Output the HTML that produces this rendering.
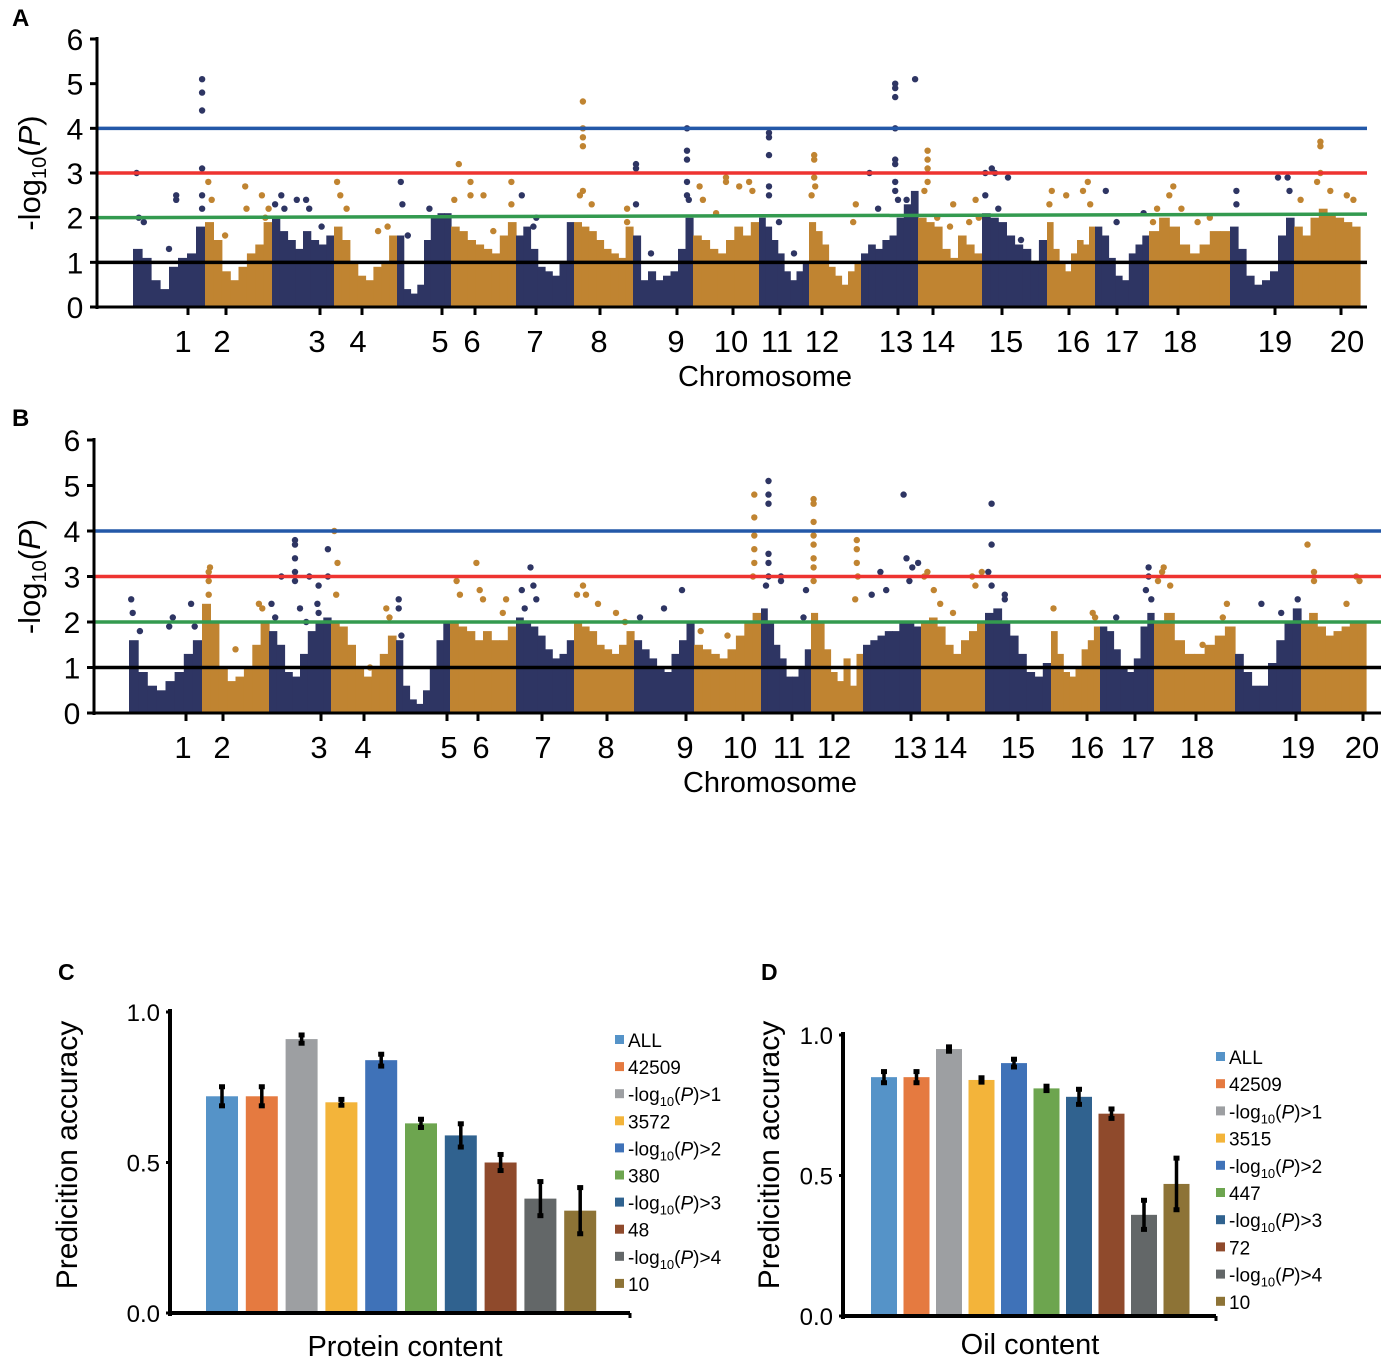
<!DOCTYPE html>
<html><head><meta charset="utf-8"><style>
body{margin:0;background:#fff}
svg{display:block;font-family:"Liberation Sans",Arial,sans-serif}
</style></head><body>
<svg id="fig" width="1387" height="1358" viewBox="0 0 1387 1358" xmlns="http://www.w3.org/2000/svg">
<g id="pa"></g>
<g id="pb"></g>
<g id="pc"></g>
<g id="pd"></g>
</svg>
<script>
// ---------- Manhattan data ----------
const chromLabels = ["1","2","3","4","5","6","7","8","9","10","11","12","13","14","15","16","17","18","19","20"];
const yTicksM = [0,1,2,3,4,5,6];
const segA = [[133,205],[205,272],[272,334],[334,397],[397,451],[451,516],[516,574],[574,633],[633,693],[693,759],[759,809],[809,861],[861,918],[918,982],[982,1047],[1047,1095],[1095,1149],[1149,1230],[1230,1294],[1294,1360]];
const segB = [[129,202],[202,269],[269,331],[331,396],[396,450],[450,516],[516,574],[574,634],[634,694],[694,761],[761,811],[811,863],[863,921],[921,985],[985,1051],[1051,1100],[1100,1154],[1154,1235],[1235,1301],[1301,1366]];
const tickA = [188,226,320,362,442,475,536,600,677,733,780,822,898,933,1002,1069,1117,1178,1275,1341];
const tickB = [186,223,321,364,447,478,542,607,686,743,792,833,911,948,1018,1087,1135,1196,1296,1363];
const labelXA = [183,222,317,358,440,472,535,599,676,731,777,822,896,938,1006,1073,1122,1180,1275,1347];
const labelXB = [183,222,319,363,449,481,543,606,685,740,789,834,910,950,1018,1087,1138,1197,1298,1362];
const bodyA = [
[1.3,1.1,0.6,0.4,0.9,1.1,1.2,1.8],[1.9,1.5,0.8,0.6,0.9,1.2,1.4,1.9],[2.0,1.7,1.5,1.3,1.7,1.5,1.4,1.6],[1.8,1.5,1.0,0.7,0.6,0.9,1.0,1.6],
[1.6,0.4,0.3,0.5,1.5,2.0,2.1,2.1],[1.8,1.7,1.5,1.4,1.3,1.2,1.6,1.9],[1.6,1.8,1.3,0.9,0.8,0.7,1.0,1.9],[1.9,1.8,1.7,1.5,1.3,1.2,1.1,1.8],
[1.6,0.6,0.8,0.6,0.7,0.8,1.3,2.0],[1.6,1.5,1.3,1.2,1.5,1.8,1.6,1.9],[2.0,1.8,1.5,1.2,0.8,0.6,0.8,1.0],[1.9,1.7,1.4,0.9,0.7,0.5,0.8,1.0],
[1.2,1.4,1.3,1.5,1.6,2.0,2.3,2.6],[2.0,1.9,1.8,1.3,1.1,1.6,1.4,1.2],[2.1,2.0,1.9,1.6,1.4,1.3,1.0,1.5],[1.9,1.3,1.0,0.8,1.2,1.5,1.4,1.8],
[1.8,1.6,1.1,0.7,0.6,1.2,1.4,1.6],[1.7,2.0,1.8,1.4,1.2,1.4,1.7,1.7],[1.8,1.3,0.7,0.5,0.6,0.8,1.6,2.0],[1.8,1.6,2.0,2.2,2.1,2.0,1.9,1.8]];
const ptsA = [
[[0.96,5.1],[0.96,4.8],[0.96,4.4],[0.96,3.1],[0.96,2.5],[0.96,2.2],[0.05,3.0],[0.08,2.0],[0.15,1.9],[0.6,2.5],[0.6,2.4],[0.5,1.3]],
[[0.05,2.8],[0.1,2.4],[0.3,1.6],[0.6,2.7],[0.62,2.2],[0.85,2.5],[0.95,2.2],[0.9,2.0]],
[[0.05,2.3],[0.15,2.5],[0.4,2.4],[0.55,2.4],[0.6,2.2],[0.2,2.2],[0.8,1.8]],
[[0.05,2.8],[0.1,2.5],[0.2,2.2],[0.85,1.8],[0.7,1.7]],
[[0.07,2.8],[0.1,2.3],[0.2,1.6],[0.6,2.2]],
[[0.05,2.4],[0.12,3.2],[0.3,2.8],[0.3,2.5],[0.5,2.5],[0.65,1.7],[0.93,2.8],[0.93,2.3]],
[[0.1,2.5],[0.3,1.8],[0.35,2.0]],
[[0.15,2.6],[0.15,3.6],[0.15,3.8],[0.15,4.0],[0.15,4.6],[0.1,2.5],[0.3,2.3],[0.5,1.2],[0.9,2.2],[0.9,1.9]],
[[0.05,3.2],[0.05,3.1],[0.05,2.3],[0.3,1.2],[0.9,4.0],[0.9,3.5],[0.9,3.3],[0.9,2.8],[0.9,2.5],[0.93,2.4]],
[[0.1,2.7],[0.15,2.4],[0.35,2.1],[0.5,2.9],[0.5,2.8],[0.7,2.7],[0.85,2.8],[0.9,2.6]],
[[0.2,3.9],[0.2,3.8],[0.2,3.4],[0.2,2.7],[0.2,2.5],[0.4,1.9],[0.7,1.2]],
[[0.1,3.4],[0.1,3.3],[0.1,2.9],[0.12,2.7],[0.05,2.5],[0.85,1.9],[0.9,2.3]],
[[0.15,3.0],[0.6,5.0],[0.6,4.9],[0.6,4.7],[0.6,4.0],[0.6,3.3],[0.6,3.2],[0.6,2.8],[0.6,2.6],[0.65,2.4],[0.8,2.4],[0.95,5.1],[0.3,2.2]],
[[0.15,3.5],[0.15,3.3],[0.15,3.1],[0.15,2.8],[0.1,2.6],[0.3,2.0],[0.5,1.8],[0.55,2.3],[0.8,1.9],[0.9,2.4],[0.95,2.0]],
[[0.05,3.0],[0.15,3.1],[0.2,3.0],[0.4,2.9],[0.05,2.5],[0.25,2.2],[0.6,1.5]],
[[0.05,2.3],[0.1,2.6],[0.4,2.5],[0.75,2.6],[0.85,2.8],[0.9,2.3]],
[[0.2,2.6],[0.4,1.9],[0.9,2.1]],
[[0.05,1.9],[0.1,2.2],[0.25,2.5],[0.3,2.7],[0.4,2.2],[0.6,1.9],[0.75,2.0]],
[[0.1,2.6],[0.1,2.3],[0.75,2.9],[0.9,2.9],[0.93,2.6]],
[[0.4,3.7],[0.4,3.6],[0.4,3.0],[0.35,2.8],[0.1,2.4],[0.55,2.6],[0.8,2.5],[0.9,2.4]]];
const bodyB = [
[1.6,0.9,0.6,0.5,0.7,0.9,1.3,1.6],[2.4,2.0,1.0,0.7,0.8,1.0,1.5,2.0],[1.8,1.5,0.9,0.8,1.3,1.8,2.0,2.1],[2.0,1.9,1.5,1.0,0.8,1.0,1.3,1.7],
[1.6,0.6,0.3,0.2,0.5,1.0,1.6,2.0],[2.0,1.9,1.8,1.6,1.8,1.6,1.6,1.9],[2.1,2.0,1.9,1.7,1.4,1.2,1.3,1.6],[2.0,1.9,1.8,1.5,1.4,1.3,1.5,1.8],
[1.6,1.4,1.2,1.0,0.9,1.3,1.6,2.0],[1.5,1.4,1.3,1.2,1.4,1.7,2.0,2.2],[2.3,2.0,1.5,1.2,0.8,0.8,1.0,1.4],[2.2,2.0,1.4,0.9,0.7,1.2,0.6,1.3],
[1.5,1.6,1.7,1.8,1.8,2.0,2.0,1.9],[2.0,2.1,1.9,1.5,1.3,1.6,1.8,2.0],[2.2,2.3,2.0,1.7,1.3,0.9,0.8,1.1],[1.8,1.3,0.9,0.8,1.0,1.4,1.6,1.9],
[1.9,1.8,1.4,1.0,0.9,1.2,1.9,2.2],[2.0,2.2,1.6,1.3,1.3,1.5,1.7,1.9],[1.3,0.9,0.6,0.6,1.1,1.6,2.0,2.3],[2.0,2.2,1.9,1.7,1.8,1.9,2.0,2.0]];
const ptsB = [
[[0.03,2.5],[0.05,2.2],[0.15,1.8],[0.55,1.9],[0.6,2.1],[0.85,2.4],[0.9,1.9]],
[[0.1,3.1],[0.12,3.2],[0.1,2.9],[0.1,2.6],[0.5,1.4],[0.85,2.4],[0.9,2.3]],
[[0.04,2.4],[0.1,2.1],[0.2,3.0],[0.42,3.8],[0.42,3.7],[0.42,3.4],[0.42,3.1],[0.42,2.9],[0.5,2.3],[0.6,2.0],[0.65,3.0],[0.78,2.4],[0.8,2.2],[0.8,2.8],[0.95,3.6],[0.95,3.0]],
[[0.1,3.3],[0.08,2.6],[0.05,4.0],[0.85,2.3],[0.9,2.1],[0.6,1.0]],
[[0.05,2.5],[0.05,2.3],[0.1,1.7]],
[[0.1,2.9],[0.15,2.6],[0.4,3.3],[0.45,2.7],[0.5,2.5],[0.8,2.2],[0.85,2.5]],
[[0.1,2.7],[0.25,3.2],[0.3,2.8],[0.35,2.5],[0.15,2.3]],
[[0.05,2.6],[0.15,2.8],[0.2,2.6],[0.4,2.4],[0.7,2.2],[0.85,2.0]],
[[0.1,2.1],[0.5,2.3],[0.8,2.7]],
[[0.9,4.8],[0.9,4.3],[0.9,3.9],[0.9,3.6],[0.9,3.3],[0.88,3.0],[0.1,1.8],[0.5,1.7]],
[[0.15,5.1],[0.15,4.8],[0.15,4.6],[0.15,3.5],[0.15,3.3],[0.15,3.0],[0.1,2.8],[0.4,2.9],[0.4,3.0],[0.9,2.7],[0.85,2.1]],
[[0.05,4.7],[0.05,4.6],[0.05,4.2],[0.05,3.9],[0.05,3.7],[0.05,3.4],[0.05,3.2],[0.05,2.9],[0.88,3.8],[0.88,3.6],[0.88,3.3],[0.9,3.0],[0.85,2.5]],
[[0.15,2.6],[0.3,3.1],[0.4,2.7],[0.7,4.8],[0.75,3.4],[0.8,2.9],[0.85,3.2],[0.95,3.3]],
[[0.05,3.0],[0.1,3.1],[0.2,2.7],[0.3,2.4],[0.5,2.2],[0.8,3.0],[0.85,2.8],[0.95,3.1]],
[[0.05,3.1],[0.1,2.8],[0.1,4.6],[0.1,3.7],[0.3,2.5],[0.3,2.6]],
[[0.05,2.3],[0.85,2.2],[0.9,2.1]],
[[0.3,2.1],[0.85,2.7],[0.9,3.2],[0.9,3.0],[0.95,2.5]],
[[0.05,2.9],[0.1,3.1],[0.12,3.2],[0.2,2.8],[0.6,1.5],[0.85,2.1],[0.9,2.4]],
[[0.4,2.4],[0.7,2.2],[0.95,2.5]],
[[0.1,3.7],[0.2,3.1],[0.2,2.9],[0.85,3.0],[0.9,2.9],[0.7,2.4]]];
const thrA = [[4,4,"#2358a8","blue-threshold-line"],[3,3,"#ee3330","red-threshold-line"],[2,2.08,"#339a4f","green-threshold-line"],[1,1,"#000","black-threshold-line"]];
const thrB = [[4,4,"#2358a8","blue-threshold-line"],[3,3,"#ee3330","red-threshold-line"],[2,2,"#339a4f","green-threshold-line"],[1,1,"#000","black-threshold-line"]];

// ---------- Bar data ----------
const barLegendC = ["ALL","42509","-log10(P)>1","3572","-log10(P)>2","380","-log10(P)>3","48","-log10(P)>4","10"];
const barLegendD = ["ALL","42509","-log10(P)>1","3515","-log10(P)>2","447","-log10(P)>3","72","-log10(P)>4","10"];
const valuesC = [0.72,0.72,0.91,0.70,0.84,0.63,0.59,0.50,0.38,0.34];
const errorsC = [0.03,0.03,0.012,0.008,0.018,0.012,0.037,0.025,0.055,0.075];
const valuesD = [0.85,0.85,0.95,0.84,0.90,0.81,0.78,0.72,0.36,0.47];
const errorsD = [0.018,0.018,0.006,0.006,0.012,0.006,0.025,0.015,0.05,0.09];
const barTicks = [0.0,0.5,1.0];
const barColors = ["#5593c8","#e57a40","#9d9fa2","#f3b43a","#3f72b8","#6da54f","#30628f","#8f4a2c","#636768","#8d7336"];

const NS="http://www.w3.org/2000/svg";
function mk(parent,tag,attrs,text){const e=document.createElementNS(NS,tag);for(const k in attrs)e.setAttribute(k,attrs[k]);if(text!==undefined)e.textContent=text;parent.appendChild(e);return e;}

function manhattan(g,cfg){
  const yS=v=>cfg.y0-(cfg.y0-cfg.y6)*v/6;
  cfg.seg.forEach((s,i)=>{
    const col=i%2===0?"#2e3563":"#c08431";
    const grp=mk(g,"g",{});
    
    
    const b=cfg.body[i];const w=(s[1]-s[0])/b.length;
    b.forEach((v,j)=>{
      const r=mk(grp,"rect",{x:(s[0]+j*w).toFixed(1),y:yS(v).toFixed(1),width:(w+0.6).toFixed(1),height:(yS(0)-yS(v)).toFixed(1),fill:col});
      
      
    });
    cfg.pts[i].forEach(p=>{
      const c=mk(grp,"circle",{cx:(s[0]+p[0]*(s[1]-s[0])).toFixed(1),cy:yS(p[1]).toFixed(1),r:3.2,fill:col});
      
      
    });
  });
  cfg.thr.forEach(t=>{
    const l=mk(g,"line",{x1:cfg.x0,x2:cfg.x1,y1:yS(t[0]),y2:yS(t[1]),stroke:t[2],"stroke-width":3.5});
    
    
  });
  const ya=mk(g,"line",{x1:cfg.x0,x2:cfg.x0,y1:cfg.y6-2,y2:cfg.y0+2,stroke:"#000","stroke-width":3});
  
  
  const xa=mk(g,"line",{x1:cfg.x0,x2:cfg.x1,y1:cfg.y0,y2:cfg.y0,stroke:"#000","stroke-width":3});
  
  
  yTicksM.forEach(v=>{
    mk(g,"line",{x1:cfg.x0-7,x2:cfg.x0,y1:yS(v),y2:yS(v),stroke:"#000","stroke-width":3});
    const t=mk(g,"text",{x:cfg.x0-22,y:yS(v)+11,"text-anchor":"middle","font-size":30},String(v));
    
    
  });
  cfg.ticks.forEach((x,i)=>{
    mk(g,"line",{x1:x,x2:x,y1:cfg.y0,y2:cfg.y0+8,stroke:"#000","stroke-width":3});
    const t=mk(g,"text",{x:cfg.lx[i],y:cfg.y0+45,"text-anchor":"middle","font-size":31},chromLabels[i]);
    
    
  });
  const xt=mk(g,"text",{x:cfg.titleX,y:cfg.y0+79,"text-anchor":"middle","font-size":29},"Chromosome");
  
  
  const yt=mk(g,"text",{transform:`translate(${cfg.ylx},${(cfg.y0+cfg.y6)/2}) rotate(-90)`,"text-anchor":"middle","font-size":31});
  
  
  yt.innerHTML='-log<tspan font-size="20" dy="6">10</tspan><tspan dy="-6">(</tspan><tspan font-style="italic">P</tspan>)';
  const pl=mk(g,"text",{x:12,y:cfg.plY,"font-size":24,"font-weight":"bold"},cfg.panel);
  
  
}
manhattan(document.getElementById("pa"),{seg:segA,body:bodyA,pts:ptsA,thr:thrA,ticks:tickA,lx:labelXA,x0:97,x1:1367,y0:307,y6:39,ylx:40,titleX:765,plY:26,panel:"A"});
manhattan(document.getElementById("pb"),{seg:segB,body:bodyB,pts:ptsB,thr:thrB,ticks:tickB,lx:labelXB,x0:94,x1:1381,y0:713,y6:440,ylx:40,titleX:770,plY:426,panel:"B"});

function legendText(el,s){
  const m=s.match(/^-log10\(P\)(.*)$/);
  if(m){el.innerHTML='-log<tspan font-size="13" dy="5">10</tspan><tspan dy="-5">(</tspan><tspan font-style="italic">P</tspan>)'+m[1];}
  else el.textContent=s;
}
function bars(g,cfg){
  const yS=v=>cfg.y0-(cfg.y0-cfg.y1)*v;
  cfg.vals.forEach((v,i)=>{
    const cx=cfg.bx0+i*cfg.step;
    const r=mk(g,"rect",{x:cx-cfg.bw/2,y:yS(v),width:cfg.bw,height:yS(0)-yS(v),fill:barColors[i]});
    
    
    const e=cfg.errs[i];
    const eb=mk(g,"g",{});
    
    
    mk(eb,"line",{x1:cx,x2:cx,y1:yS(v+e)-2,y2:yS(v-e)+2,stroke:"#000","stroke-width":3.5});
    mk(eb,"rect",{x:cx-3,y:yS(v+e)-3,width:6,height:5,fill:"#000"});
    mk(eb,"rect",{x:cx-3,y:yS(v-e)-2,width:6,height:5,fill:"#000"});
  });
  const ya=mk(g,"line",{x1:cfg.x0,x2:cfg.x0,y1:yS(1)-3,y2:yS(0)+3,stroke:"#000","stroke-width":4});
  
  
  const xa=mk(g,"line",{x1:cfg.x0,x2:cfg.x1,y1:yS(0),y2:yS(0),stroke:"#000","stroke-width":4});
  
  
  mk(g,"line",{x1:cfg.x1,x2:cfg.x1,y1:yS(0),y2:yS(0)+5,stroke:"#000","stroke-width":3});
  barTicks.forEach(v=>{
    mk(g,"line",{x1:cfg.x0-4,x2:cfg.x0,y1:yS(v),y2:yS(v),stroke:"#000","stroke-width":3});
    const t=mk(g,"text",{x:cfg.x0-10,y:yS(v)+9,"text-anchor":"end","font-size":24},v.toFixed(1));
    
    
  });
  cfg.legend.forEach((s,i)=>{
    const y=cfg.ly0+i*cfg.lstep;
    const sw=mk(g,"rect",{x:cfg.lx,y:y-5,width:9,height:9,fill:barColors[i]});
    
    
    const t=mk(g,"text",{x:cfg.lx+13,y:y+7,"font-size":19});
    legendText(t,s);
    
    
  });
  const xt=mk(g,"text",{x:cfg.titleX,y:cfg.titleY,"text-anchor":"middle","font-size":29},cfg.title);
  
  
  const yt=mk(g,"text",{transform:`translate(${cfg.ylx},${cfg.yly}) rotate(-90)`,"text-anchor":"middle","font-size":30},"Predicition accuracy");
  
  
  const pl=mk(g,"text",{x:cfg.plx,y:980,"font-size":23,"font-weight":"bold"},cfg.panel);
  
  
}
bars(document.getElementById("pc"),{vals:valuesC,errs:errorsC,legend:barLegendC,x0:170,x1:630,y0:1313,y1:1012,bx0:222,step:39.8,bw:32,lx:615,ly0:1040,lstep:27.1,title:"Protein content",titleX:405,titleY:1356,ylx:77,yly:1155,plx:58,panel:"C"});
bars(document.getElementById("pd"),{vals:valuesD,errs:errorsD,legend:barLegendD,x0:843,x1:1216,y0:1316,y1:1035,bx0:884,step:32.5,bw:26,lx:1216,ly0:1057,lstep:27.2,title:"Oil content",titleX:1030,titleY:1354,ylx:779,yly:1155,plx:761,panel:"D"});
</script>
</body></html>
